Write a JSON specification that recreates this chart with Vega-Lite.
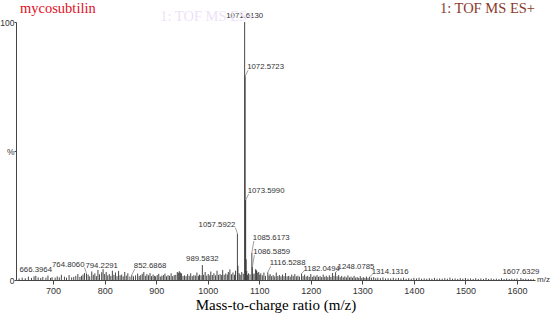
{
  "$schema": "https://vega.github.io/schema/vega-lite/v6.json",
  "width": 519,
  "height": 258,
  "autosize": {"type": "none"},
  "padding": {"left": 16, "top": 22, "right": 15, "bottom": 33},
  "config": {
    "view": {"stroke": null},
    "font": "Liberation Sans",
    "axis": {"titleFont": "Liberation Serif", "titleFontWeight": "normal"}
  },
  "data": {"values": [
    {"mz": 666.3964, "intensity": 1.6, "label": "666.3964"},
    {"mz": 764.806, "intensity": 2.5, "label": "764.8060"},
    {"mz": 794.2291, "intensity": 3.0, "label": "794.2291"},
    {"mz": 852.6868, "intensity": 2.0, "label": "852.6868"},
    {"mz": 989.5832, "intensity": 5.8, "label": "989.5832"},
    {"mz": 1057.5922, "intensity": 18, "label": "1057.5922"},
    {"mz": 1071.613, "intensity": 100, "label": "1071.6130"},
    {"mz": 1072.5723, "intensity": 79, "label": "1072.5723"},
    {"mz": 1073.599, "intensity": 31, "label": "1073.5990"},
    {"mz": 1085.6173, "intensity": 10.5, "label": "1085.6173"},
    {"mz": 1086.5859, "intensity": 5, "label": "1086.5859"},
    {"mz": 1116.5288, "intensity": 3, "label": "1116.5288"},
    {"mz": 1182.0494, "intensity": 2.5, "label": "1182.0494"},
    {"mz": 1248.0785, "intensity": 3, "label": "1248.0785"},
    {"mz": 1314.1316, "intensity": 1.2, "label": "1314.1316"},
    {"mz": 1607.6329, "intensity": 0.8, "label": "1607.6329"},
    {"mz": 634, "intensity": 0.6}, {"mz": 640, "intensity": 0.9}, {"mz": 646, "intensity": 0.7}, {"mz": 652, "intensity": 1.3},
    {"mz": 658, "intensity": 0.8}, {"mz": 663, "intensity": 1.4}, {"mz": 671, "intensity": 1.0}, {"mz": 676, "intensity": 0.8},
    {"mz": 680, "intensity": 1.2}, {"mz": 686, "intensity": 0.9}, {"mz": 690, "intensity": 1.7}, {"mz": 695, "intensity": 0.8},
    {"mz": 698, "intensity": 1.1}, {"mz": 704, "intensity": 0.9}, {"mz": 708, "intensity": 1.4}, {"mz": 712, "intensity": 1.0},
    {"mz": 716, "intensity": 2.0}, {"mz": 722, "intensity": 1.3}, {"mz": 726, "intensity": 0.9}, {"mz": 731, "intensity": 1.9},
    {"mz": 736, "intensity": 1.0}, {"mz": 740, "intensity": 1.2}, {"mz": 744, "intensity": 1.6}, {"mz": 748, "intensity": 2.3},
    {"mz": 752, "intensity": 1.2}, {"mz": 755, "intensity": 1.6}, {"mz": 758, "intensity": 2.1}, {"mz": 761, "intensity": 2.7},
    {"mz": 768, "intensity": 2.1}, {"mz": 771, "intensity": 1.4}, {"mz": 775, "intensity": 3.3}, {"mz": 778, "intensity": 2.0},
    {"mz": 781, "intensity": 2.6}, {"mz": 784, "intensity": 1.5}, {"mz": 787, "intensity": 3.9}, {"mz": 790, "intensity": 2.2},
    {"mz": 797, "intensity": 4.2}, {"mz": 800, "intensity": 2.3}, {"mz": 803, "intensity": 3.1}, {"mz": 806, "intensity": 1.8},
    {"mz": 809, "intensity": 2.3}, {"mz": 812, "intensity": 1.6}, {"mz": 815, "intensity": 3.6}, {"mz": 818, "intensity": 2.0},
    {"mz": 821, "intensity": 2.9}, {"mz": 824, "intensity": 1.5}, {"mz": 827, "intensity": 3.5}, {"mz": 830, "intensity": 1.8},
    {"mz": 833, "intensity": 2.1}, {"mz": 836, "intensity": 1.4}, {"mz": 839, "intensity": 3.1}, {"mz": 842, "intensity": 1.7},
    {"mz": 845, "intensity": 2.6}, {"mz": 849, "intensity": 1.3}, {"mz": 856, "intensity": 1.4}, {"mz": 860, "intensity": 1.8},
    {"mz": 864, "intensity": 2.5}, {"mz": 867, "intensity": 1.5}, {"mz": 870, "intensity": 1.9}, {"mz": 873, "intensity": 2.4},
    {"mz": 876, "intensity": 3.1}, {"mz": 879, "intensity": 1.6}, {"mz": 882, "intensity": 2.3}, {"mz": 885, "intensity": 1.8},
    {"mz": 888, "intensity": 2.7}, {"mz": 891, "intensity": 1.5}, {"mz": 894, "intensity": 2.1}, {"mz": 897, "intensity": 1.6},
    {"mz": 899, "intensity": 1.4}, {"mz": 902, "intensity": 1.9}, {"mz": 905, "intensity": 2.4}, {"mz": 908, "intensity": 1.3},
    {"mz": 911, "intensity": 1.7}, {"mz": 914, "intensity": 1.9}, {"mz": 917, "intensity": 2.5}, {"mz": 920, "intensity": 1.4},
    {"mz": 923, "intensity": 1.9}, {"mz": 926, "intensity": 1.6}, {"mz": 929, "intensity": 2.6}, {"mz": 932, "intensity": 1.5},
    {"mz": 935, "intensity": 1.9}, {"mz": 938, "intensity": 2.0}, {"mz": 941, "intensity": 3.1}, {"mz": 943, "intensity": 2.8},
    {"mz": 945, "intensity": 3.4}, {"mz": 947, "intensity": 2.9}, {"mz": 949, "intensity": 2.6}, {"mz": 952, "intensity": 1.6},
    {"mz": 955, "intensity": 1.8}, {"mz": 958, "intensity": 1.5}, {"mz": 961, "intensity": 2.3}, {"mz": 964, "intensity": 1.6},
    {"mz": 967, "intensity": 2.6}, {"mz": 970, "intensity": 1.5}, {"mz": 973, "intensity": 1.9}, {"mz": 976, "intensity": 1.7},
    {"mz": 979, "intensity": 2.9}, {"mz": 982, "intensity": 1.6}, {"mz": 984, "intensity": 2.1}, {"mz": 987, "intensity": 1.8},
    {"mz": 992, "intensity": 2.0}, {"mz": 995, "intensity": 3.1}, {"mz": 998, "intensity": 1.7}, {"mz": 1001, "intensity": 2.3},
    {"mz": 1004, "intensity": 1.8}, {"mz": 1006, "intensity": 3.3}, {"mz": 1009, "intensity": 1.9}, {"mz": 1012, "intensity": 2.6},
    {"mz": 1015, "intensity": 1.8}, {"mz": 1018, "intensity": 3.6}, {"mz": 1021, "intensity": 2.0}, {"mz": 1024, "intensity": 2.3},
    {"mz": 1027, "intensity": 1.9}, {"mz": 1029, "intensity": 3.9}, {"mz": 1032, "intensity": 2.0}, {"mz": 1035, "intensity": 2.5},
    {"mz": 1038, "intensity": 2.1}, {"mz": 1040, "intensity": 3.1}, {"mz": 1043, "intensity": 4.1}, {"mz": 1046, "intensity": 2.2},
    {"mz": 1049, "intensity": 2.9}, {"mz": 1052, "intensity": 2.0}, {"mz": 1054, "intensity": 3.6}, {"mz": 1058.6, "intensity": 5.5},
    {"mz": 1061, "intensity": 2.6}, {"mz": 1063, "intensity": 2.0}, {"mz": 1066, "intensity": 3.1}, {"mz": 1069, "intensity": 2.4},
    {"mz": 1074.6, "intensity": 8}, {"mz": 1075.6, "intensity": 3.5}, {"mz": 1077, "intensity": 2.0}, {"mz": 1079, "intensity": 2.6},
    {"mz": 1082, "intensity": 2.2}, {"mz": 1087.6, "intensity": 2.2}, {"mz": 1090, "intensity": 2.5}, {"mz": 1093, "intensity": 4.2},
    {"mz": 1094, "intensity": 3.8}, {"mz": 1095, "intensity": 3.6}, {"mz": 1097, "intensity": 2.8}, {"mz": 1099, "intensity": 3.1},
    {"mz": 1101, "intensity": 2.0}, {"mz": 1103, "intensity": 2.6}, {"mz": 1106, "intensity": 1.8}, {"mz": 1109, "intensity": 2.9},
    {"mz": 1112, "intensity": 1.6}, {"mz": 1119, "intensity": 1.7}, {"mz": 1121, "intensity": 2.3}, {"mz": 1124, "intensity": 1.5},
    {"mz": 1127, "intensity": 1.9}, {"mz": 1130, "intensity": 1.4}, {"mz": 1133, "intensity": 2.9}, {"mz": 1136, "intensity": 1.5},
    {"mz": 1139, "intensity": 1.9}, {"mz": 1142, "intensity": 1.4}, {"mz": 1145, "intensity": 2.1}, {"mz": 1148, "intensity": 1.5},
    {"mz": 1151, "intensity": 2.7}, {"mz": 1154, "intensity": 1.4}, {"mz": 1157, "intensity": 1.6}, {"mz": 1160, "intensity": 1.3},
    {"mz": 1163, "intensity": 2.1}, {"mz": 1166, "intensity": 1.5}, {"mz": 1169, "intensity": 2.3}, {"mz": 1172, "intensity": 1.4},
    {"mz": 1175, "intensity": 1.7}, {"mz": 1178, "intensity": 1.3}, {"mz": 1185, "intensity": 1.5}, {"mz": 1188, "intensity": 2.1},
    {"mz": 1191, "intensity": 1.3}, {"mz": 1194, "intensity": 1.6}, {"mz": 1197, "intensity": 1.2}, {"mz": 1200, "intensity": 2.3},
    {"mz": 1203, "intensity": 1.2}, {"mz": 1206, "intensity": 1.7}, {"mz": 1209, "intensity": 1.3}, {"mz": 1212, "intensity": 1.9},
    {"mz": 1215, "intensity": 1.2}, {"mz": 1218, "intensity": 1.5}, {"mz": 1221, "intensity": 1.1}, {"mz": 1224, "intensity": 2.1},
    {"mz": 1227, "intensity": 1.2}, {"mz": 1230, "intensity": 1.6}, {"mz": 1233, "intensity": 1.1}, {"mz": 1236, "intensity": 1.8},
    {"mz": 1239, "intensity": 1.2}, {"mz": 1242, "intensity": 2.7}, {"mz": 1245, "intensity": 1.6}, {"mz": 1251, "intensity": 1.4},
    {"mz": 1254, "intensity": 1.9}, {"mz": 1257, "intensity": 1.1}, {"mz": 1260, "intensity": 1.6}, {"mz": 1263, "intensity": 1.0},
    {"mz": 1266, "intensity": 1.4}, {"mz": 1269, "intensity": 1.0}, {"mz": 1272, "intensity": 1.8}, {"mz": 1275, "intensity": 1.0},
    {"mz": 1278, "intensity": 1.3}, {"mz": 1281, "intensity": 0.9}, {"mz": 1284, "intensity": 1.6}, {"mz": 1287, "intensity": 0.9},
    {"mz": 1290, "intensity": 1.1}, {"mz": 1293, "intensity": 0.8}, {"mz": 1296, "intensity": 1.5}, {"mz": 1299, "intensity": 0.8},
    {"mz": 1302, "intensity": 1.1}, {"mz": 1305, "intensity": 0.8}, {"mz": 1308, "intensity": 1.3}, {"mz": 1311, "intensity": 0.8},
    {"mz": 1318, "intensity": 0.9}, {"mz": 1322, "intensity": 1.1}, {"mz": 1326, "intensity": 0.7}, {"mz": 1330, "intensity": 0.9},
    {"mz": 1335, "intensity": 0.7}, {"mz": 1340, "intensity": 1.0}, {"mz": 1345, "intensity": 0.6}, {"mz": 1350, "intensity": 0.7},
    {"mz": 1355, "intensity": 0.6}, {"mz": 1360, "intensity": 0.9}, {"mz": 1365, "intensity": 0.6}, {"mz": 1370, "intensity": 0.8},
    {"mz": 1375, "intensity": 0.6}, {"mz": 1380, "intensity": 0.9}, {"mz": 1385, "intensity": 0.5}, {"mz": 1390, "intensity": 0.7},
    {"mz": 1395, "intensity": 0.5}, {"mz": 1400, "intensity": 0.8}, {"mz": 1405, "intensity": 0.6}, {"mz": 1410, "intensity": 0.9},
    {"mz": 1415, "intensity": 0.5}, {"mz": 1420, "intensity": 0.6}, {"mz": 1425, "intensity": 0.5}, {"mz": 1430, "intensity": 0.7},
    {"mz": 1435, "intensity": 0.5}, {"mz": 1440, "intensity": 0.8}, {"mz": 1445, "intensity": 0.5}, {"mz": 1450, "intensity": 0.6},
    {"mz": 1455, "intensity": 0.5}, {"mz": 1460, "intensity": 0.7}, {"mz": 1465, "intensity": 0.5}, {"mz": 1470, "intensity": 0.9},
    {"mz": 1475, "intensity": 0.5}, {"mz": 1480, "intensity": 0.6}, {"mz": 1485, "intensity": 0.4}, {"mz": 1490, "intensity": 0.7},
    {"mz": 1495, "intensity": 0.5}, {"mz": 1500, "intensity": 0.8}, {"mz": 1505, "intensity": 0.5}, {"mz": 1510, "intensity": 0.6},
    {"mz": 1515, "intensity": 0.4}, {"mz": 1520, "intensity": 0.7}, {"mz": 1525, "intensity": 0.4}, {"mz": 1530, "intensity": 0.6},
    {"mz": 1535, "intensity": 0.4}, {"mz": 1540, "intensity": 0.8}, {"mz": 1545, "intensity": 0.4}, {"mz": 1550, "intensity": 0.6},
    {"mz": 1555, "intensity": 0.4}, {"mz": 1560, "intensity": 0.5}, {"mz": 1565, "intensity": 0.4}, {"mz": 1570, "intensity": 0.7},
    {"mz": 1575, "intensity": 0.4}, {"mz": 1580, "intensity": 0.6}, {"mz": 1585, "intensity": 0.4}, {"mz": 1590, "intensity": 0.5},
    {"mz": 1595, "intensity": 0.4}, {"mz": 1600, "intensity": 0.6}, {"mz": 1612, "intensity": 0.4}, {"mz": 1617, "intensity": 0.5},
    {"mz": 1622, "intensity": 0.4}, {"mz": 1627, "intensity": 0.4}, {"mz": 1632, "intensity": 0.3}
  ]},
  "layer": [
    {
      "encoding": {
        "x": {
          "field": "mz", "type": "quantitative",
          "scale": {"domain": [628, 1635], "nice": false, "zero": false},
          "axis": {
            "values": [700, 800, 900, 1000, 1100, 1200, 1300, 1400, 1500, 1600],
            "format": "d", "grid": false,
            "title": "Mass-to-charge ratio (m/z)",
            "titleFont": "Liberation Serif", "titleFontSize": 15, "titleFontWeight": "normal", "titleColor": "#000",
            "titlePadding": 2,
            "labelFont": "Liberation Sans", "labelFontSize": 9, "labelColor": "#333", "labelPadding": 2,
            "tickSize": 4, "tickColor": "#444", "domainColor": "#444"
          }
        },
        "y": {
          "field": "intensity", "type": "quantitative",
          "scale": {"domain": [0, 100], "nice": false},
          "axis": {
            "values": [0, 50, 100],
            "labelExpr": "datum.value == 50 ? '%' : datum.label",
            "title": null, "grid": false,
            "labelFont": "Liberation Sans", "labelFontSize": 8.5, "labelColor": "#333", "labelPadding": 0,
            "tickSize": 2, "tickColor": "#444", "domainColor": "#444"
          }
        }
      },
      "layer": [
        {
          "mark": {"type": "rule", "color": "#333", "strokeWidth": 0.9},
          "encoding": {"y2": {"datum": 0}}
        },
        {
          "transform": [{"filter": {"field": "label", "oneOf": ["1072.5723", "1073.5990", "1116.5288", "852.6868"]}}],
          "mark": {"type": "rule", "color": "#888", "strokeWidth": 0.8, "x2Offset": 3, "y2Offset": -6},
          "encoding": {"x2": {"field": "mz"}, "y2": {"field": "intensity"}}
        },
        {
          "transform": [{"filter": {"field": "label", "oneOf": ["1182.0494", "1248.0785", "1314.1316"]}}],
          "mark": {"type": "rule", "color": "#888", "strokeWidth": 0.8, "x2Offset": 3, "y2Offset": -3},
          "encoding": {"x2": {"field": "mz"}, "y2": {"field": "intensity"}}
        },
        {
          "transform": [{"filter": {"field": "label", "oneOf": ["1085.6173", "1086.5859"]}}],
          "mark": {"type": "rule", "color": "#888", "strokeWidth": 0.8, "x2Offset": 2, "y2Offset": -12},
          "encoding": {"x2": {"field": "mz"}, "y2": {"field": "intensity"}}
        },
        {
          "transform": [{"filter": {"field": "label", "oneOf": ["1057.5922", "764.8060"]}}],
          "mark": {"type": "rule", "color": "#888", "strokeWidth": 0.8, "x2Offset": -2, "y2Offset": -6},
          "encoding": {"x2": {"field": "mz"}, "y2": {"field": "intensity"}}
        },
        {
          "transform": [{"filter": {"field": "label", "oneOf": ["1071.6130", "989.5832", "666.3964", "794.2291", "1607.6329"]}}],
          "mark": {"type": "text", "align": "center", "baseline": "bottom", "dy": -2, "fontSize": 7.8, "color": "#333", "font": "Liberation Sans"},
          "encoding": {"text": {"field": "label"}}
        },
        {
          "transform": [{"filter": {"field": "label", "oneOf": ["1072.5723", "1073.5990", "1116.5288", "852.6868"]}}],
          "mark": {"type": "text", "align": "left", "baseline": "middle", "dx": 2, "dy": -9, "fontSize": 7.8, "color": "#333", "font": "Liberation Sans"},
          "encoding": {"text": {"field": "label"}}
        },
        {
          "transform": [{"filter": {"field": "label", "oneOf": ["1182.0494", "1248.0785", "1314.1316"]}}],
          "mark": {"type": "text", "align": "left", "baseline": "middle", "dx": 2, "dy": -5, "fontSize": 7.8, "color": "#333", "font": "Liberation Sans"},
          "encoding": {"text": {"field": "label"}}
        },
        {
          "transform": [{"filter": {"field": "label", "oneOf": ["1085.6173", "1086.5859"]}}],
          "mark": {"type": "text", "align": "left", "baseline": "middle", "dx": 1, "dy": -15, "fontSize": 7.8, "color": "#333", "font": "Liberation Sans"},
          "encoding": {"text": {"field": "label"}}
        },
        {
          "transform": [{"filter": {"field": "label", "oneOf": ["1057.5922", "764.8060"]}}],
          "mark": {"type": "text", "align": "right", "baseline": "middle", "dx": -2, "dy": -9, "fontSize": 7.8, "color": "#333", "font": "Liberation Sans"},
          "encoding": {"text": {"field": "label"}}
        }
      ]
    },
    {
      "data": {"values": [{"t": "1: TOF MS ES+"}]},
      "mark": {"type": "text", "align": "center", "baseline": "middle", "dy": -5, "fontSize": 14.5, "color": "#ede2f8", "font": "Liberation Serif"},
      "encoding": {"x": {"datum": 1000, "type": "quantitative"}, "y": {"datum": 100, "type": "quantitative"}, "text": {"field": "t"}}
    },
    {
      "data": {"values": [{"t": "mycosubtilin"}]},
      "mark": {"type": "text", "align": "left", "baseline": "middle", "dx": 4, "dy": -13, "fontSize": 14.5, "color": "#e0101e", "font": "Liberation Serif"},
      "encoding": {"x": {"datum": 628, "type": "quantitative"}, "y": {"datum": 100, "type": "quantitative"}, "text": {"field": "t"}}
    },
    {
      "data": {"values": [{"t": "1: TOF MS ES+"}]},
      "mark": {"type": "text", "align": "right", "baseline": "middle", "dy": -13, "fontSize": 14.5, "color": "#8a3b2b", "font": "Liberation Serif"},
      "encoding": {"x": {"datum": 1635, "type": "quantitative"}, "y": {"datum": 100, "type": "quantitative"}, "text": {"field": "t"}}
    },
    {
      "data": {"values": [{"t": "m/z"}]},
      "mark": {"type": "text", "align": "left", "baseline": "middle", "dx": 2, "fontSize": 8, "color": "#333", "font": "Liberation Sans"},
      "encoding": {"x": {"datum": 1635, "type": "quantitative"}, "y": {"datum": 0, "type": "quantitative"}, "text": {"field": "t"}}
    }
  ]
}
